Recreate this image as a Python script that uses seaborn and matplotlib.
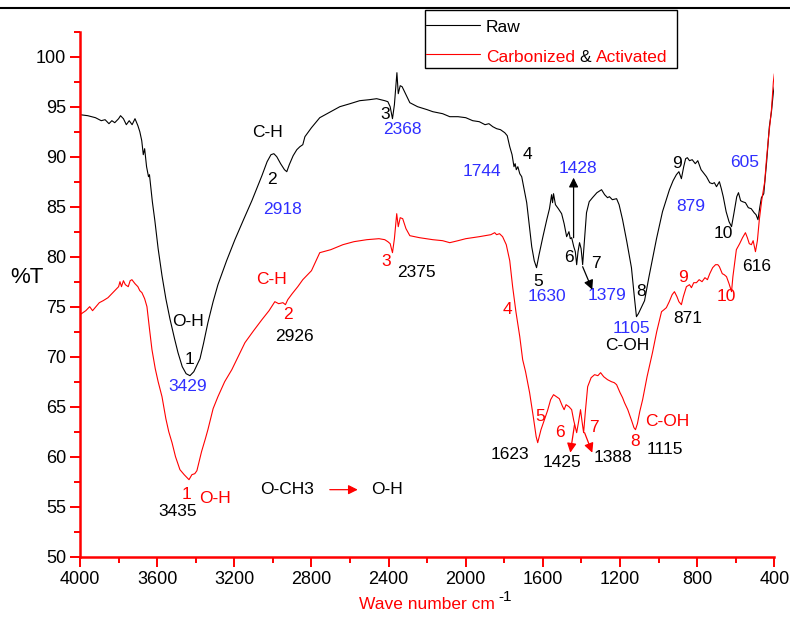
import matplotlib
matplotlib.use("Agg")
import matplotlib.pyplot as plt
from matplotlib.lines import Line2D
from matplotlib.patches import Rectangle
from matplotlib.text import Annotation
from matplotlib.ticker import MultipleLocator
import pandas as pd
import seaborn as sns

# ---- spectra (wavenumber cm-1, %T) ----
raw_wn = [4000, 3960, 3920, 3890, 3870, 3850, 3835, 3820, 3800, 3790, 3775, 3760, 3745,
          3730, 3715, 3700, 3690, 3680, 3672, 3665, 3655, 3645, 3640, 3625, 3612, 3595,
          3575, 3555, 3534, 3510, 3492, 3470, 3450, 3430, 3410, 3390, 3378, 3360, 3337,
          3310, 3285, 3240, 3197, 3150, 3109, 3080, 3057, 3030, 3010, 2995, 2980, 2960,
          2940, 2928, 2915, 2895, 2876, 2860, 2845, 2834, 2800, 2757, 2700, 2653, 2600,
          2550, 2500, 2462, 2420, 2404, 2392, 2380, 2370, 2357, 2350, 2340, 2330, 2310,
          2290, 2250, 2200, 2171, 2120, 2083, 2040, 2000, 1964, 1930, 1900, 1880, 1860,
          1840, 1820, 1798, 1785, 1772, 1760, 1750, 1744, 1738, 1730, 1720, 1710, 1700,
          1684, 1670, 1658, 1645, 1633, 1620, 1600, 1580, 1566, 1555, 1550, 1545, 1535,
          1520, 1503, 1490, 1477, 1465, 1458, 1451, 1440, 1432, 1425, 1418, 1410, 1402,
          1394, 1385, 1374, 1360, 1343, 1320, 1296, 1280, 1265, 1255, 1240, 1218, 1205,
          1187, 1165, 1141, 1125, 1115, 1105, 1090, 1073, 1050, 1011, 980, 944, 925, 908,
          895, 882, 870, 860, 851, 840, 826, 810, 797, 780, 752, 735, 722, 711, 700, 685,
          675, 665, 650, 635, 622, 610, 595, 586, 575, 565, 550, 535, 520, 505, 495, 485,
          475, 467, 455, 440, 426, 415, 405, 400]
raw_t = [94.2, 94.1, 93.9, 93.6, 93.7, 93.3, 93.6, 93.4, 93.8, 94.1, 93.8, 93.2, 93.6,
         93.2, 93.8, 93.1, 92.5, 91.6, 90.2, 90.8, 89.0, 88.0, 88.2, 85.5, 83.6, 80.8,
         78.1, 75.8, 73.8, 71.8, 70.4, 69.0, 68.3, 68.1, 68.5, 69.3, 69.8, 71.3, 73.4,
         75.5, 77.2, 79.6, 81.7, 83.8, 85.6, 87.0, 88.1, 89.5, 90.2, 90.3, 90.0, 89.3,
         88.7, 88.5, 89.2, 90.1, 90.7, 91.0, 91.2, 92.0, 92.9, 93.9, 94.5, 95.0, 95.3,
         95.6, 95.7, 95.8, 95.6, 95.5, 95.0, 93.8, 95.2, 98.4, 96.3, 97.1, 97.0, 96.2,
         95.4, 95.0, 94.7, 94.5, 94.3, 94.0, 94.0, 93.9, 93.6, 93.5, 93.2, 93.3, 93.0,
         92.8, 92.7, 92.4, 92.1, 91.0, 90.2, 89.0, 89.3, 88.7, 89.0, 88.3, 88.0, 87.0,
         85.4, 83.0, 81.0, 79.6, 78.9, 80.2, 82.0, 83.7, 84.8, 86.2, 85.4, 86.3, 85.2,
         84.8, 84.3, 83.3, 82.0, 82.5, 81.8, 81.9, 81.0, 80.5, 79.2, 80.5, 81.4, 80.8,
         79.2, 81.5, 84.4, 85.5, 85.9, 86.4, 86.7, 86.2, 85.9, 86.0, 85.7, 85.8, 85.2,
         83.7, 81.5, 78.9, 75.8, 74.0, 74.3, 74.9, 75.6, 78.0, 81.8, 84.5, 86.7, 87.6, 88.2,
         88.5, 87.8, 89.0, 89.8, 89.9, 89.6, 89.7, 89.3, 89.6, 88.7, 88.0, 87.4, 87.3, 87.4,
         87.0, 87.5, 86.8, 86.0, 84.5, 83.5, 83.0, 84.3, 86.0, 86.4, 85.6, 85.5, 85.4,
         84.9, 84.8, 84.4, 84.2, 83.7, 85.0, 85.9, 86.3, 89.5, 93.0, 94.5, 96.5, 97.0]

ca_wn = [4000, 3970, 3950, 3935, 3922, 3900, 3880, 3855, 3835, 3815, 3800, 3793, 3785,
         3775, 3765, 3750, 3740, 3731, 3715, 3700, 3690, 3679, 3665, 3653, 3640, 3627,
         3610, 3595, 3575, 3555, 3540, 3523, 3505, 3482, 3460, 3445, 3435, 3420, 3405,
         3394, 3370, 3350, 3337, 3310, 3285, 3250, 3213, 3180, 3145, 3100, 3057, 3020,
         2990, 2970, 2948, 2935, 2923, 2900, 2871, 2845, 2800, 2757, 2700, 2637, 2580,
         2513, 2450, 2420, 2404, 2392, 2380, 2370, 2358, 2350, 2340, 2327, 2310, 2290,
         2240, 2171, 2120, 2083, 2040, 2000, 1964, 1930, 1900, 1870, 1850, 1840, 1825,
         1809, 1790, 1772, 1757, 1740, 1720, 1705, 1690, 1669, 1650, 1635, 1627, 1610,
         1590, 1576, 1560, 1545, 1530, 1515, 1500, 1490, 1480, 1465, 1451, 1440, 1425,
         1415, 1405, 1397, 1389, 1380, 1368, 1350, 1332, 1315, 1301, 1285, 1265, 1245,
         1230, 1218, 1200, 1187, 1177, 1160, 1140, 1128, 1120, 1110, 1098, 1083, 1060,
         1032, 1010, 985, 972, 960, 945, 930, 918, 905, 895, 882, 872, 856, 840, 830, 818,
         804, 790, 775, 760, 747, 735, 720, 705, 693, 685, 670, 660, 648, 635, 622, 615,
         605, 597, 580, 565, 550, 540, 530, 519, 510, 498, 488, 478, 465, 450, 441, 430,
         415, 405, 400]
ca_t = [74.2, 74.6, 75.0, 74.6, 74.9, 75.4, 75.6, 75.9, 76.3, 76.7, 77.0, 77.5, 77.0,
        77.6, 77.2, 77.0, 77.6, 77.7, 77.3, 77.0, 76.6, 76.4, 75.8, 75.0, 72.8, 70.7,
        68.8, 67.5, 66.0, 63.8, 62.5, 61.4, 60.0, 58.7, 58.2, 57.9, 57.7, 58.2, 58.3,
        58.6, 60.5, 61.8, 62.7, 64.8, 66.0, 67.5, 68.7, 70.0, 71.4, 72.6, 73.7, 74.6,
        75.5, 75.3, 75.4, 75.2, 75.7, 76.3, 77.0, 77.7, 78.6, 80.4, 80.7, 81.2, 81.5,
        81.7, 81.8, 81.7, 81.5, 81.3, 80.4, 81.8, 84.3, 83.0, 83.9, 83.8, 82.8, 82.1,
        81.9, 81.7, 81.6, 81.4, 81.6, 81.8, 81.9, 82.0, 82.1, 82.2, 82.4, 82.2, 82.3,
        82.0, 81.2, 79.6, 77.0, 74.5, 72.0, 69.7, 68.5, 66.4, 64.0, 62.0, 61.4, 62.7,
        63.8, 64.6, 65.7, 66.2, 66.0, 65.8, 65.1, 64.7, 65.2, 65.0, 64.7, 63.6, 62.4,
        63.5, 64.7, 63.5, 62.4, 64.5, 67.0, 67.9, 68.2, 68.1, 68.4, 68.0, 67.7, 67.5,
        67.4, 67.2, 66.4, 65.9, 65.4, 64.7, 63.6, 62.9, 62.7, 63.3, 64.5, 65.7, 68.0,
        70.4, 72.5, 74.5, 74.7, 74.9, 75.5, 76.2, 76.5, 76.0, 75.5, 75.2, 76.0, 77.0,
        77.2, 76.9, 77.4, 77.4, 77.7, 77.5, 77.9, 77.7, 78.3, 78.9, 79.2, 79.2, 79.0,
        78.3, 78.2, 78.0, 77.3, 76.5, 78.0, 79.5, 80.7, 81.3, 81.9, 82.4, 81.9, 81.3,
        81.2, 81.6, 80.5, 81.6, 83.7, 85.7, 87.5, 89.7, 92.0, 94.7, 97.5, 98.3]

series_names = ["Raw", "Carbonized & Activated"]
series_colors = ["black", "red"]
BLUE = "#2f2fff"

# peak labels: (text, wavenumber, %T, colour)
peak_labels = [
    ("C-H", 3026, 92.4, "black"), ("2", 3005, 87.7, "black"), ("2918", 2948, 84.7, BLUE),
    ("O-H", 3440, 73.5, "black"), ("1", 3430, 69.7, "black"), ("3429", 3440, 67.0, BLUE),
    ("3", 2420, 94.2, "black"), ("2368", 2327, 92.7, BLUE),
    ("4", 1679, 90.2, "black"), ("1744", 1918, 88.5, BLUE), ("1428", 1420, 88.8, BLUE),
    ("5", 1627, 77.5, "black"), ("1630", 1581, 76.0, BLUE),
    ("6", 1467, 79.9, "black"), ("7", 1327, 79.3, "black"), ("1379", 1270, 76.1, BLUE),
    ("8", 1092, 76.5, "black"), ("1105", 1141, 72.8, BLUE), ("C-OH", 1161, 71.1, "black"),
    ("9", 907, 89.3, "black"), ("879", 835, 85.0, BLUE), ("10", 664, 82.3, "black"),
    ("605", 555, 89.4, BLUE), ("616", 493, 79.0, "black"),
    ("C-H", 3005, 77.7, "red"), ("2", 2923, 74.2, "red"), ("2926", 2886, 72.0, "black"),
    ("3", 2415, 79.5, "red"), ("2375", 2254, 78.4, "black"), ("4", 1783, 74.7, "red"),
    ("1", 3446, 56.2, "red"), ("O-H", 3301, 55.8, "red"), ("3435", 3492, 54.5, "black"),
    ("O-CH3", 2928, 56.7, "black"), ("O-H", 2410, 56.7, "black"),
    ("5", 1612, 64.0, "red"), ("1623", 1773, 60.2, "black"),
    ("6", 1513, 62.4, "red"), ("1425", 1503, 59.4, "black"),
    ("7", 1337, 62.9, "red"), ("1388", 1239, 59.9, "black"),
    ("8", 1120, 61.5, "red"), ("C-OH", 954, 63.5, "red"), ("1115", 970, 60.7, "black"),
    ("9", 876, 77.9, "red"), ("871", 851, 73.8, "black"), ("10", 648, 76.0, "red"),
]

# arrows: (tail wn, tail %T, head wn, head %T, colour)
arrows = [
    (1441, 81.9, 1441, 87.9, "black"),
    (1394, 79.0, 1344, 76.7, "black"),
    (1436, 63.2, 1458, 60.4, "red"),
    (1384, 62.4, 1344, 60.4, "red"),
    (2705, 56.7, 2560, 56.7, "red"),
]

df = pd.concat([
    pd.DataFrame({"wn": raw_wn, "T": raw_t, "sample": series_names[0]}),
    pd.DataFrame({"wn": ca_wn, "T": ca_t, "sample": series_names[1]}),
])

sns.set_theme(style="white")
plt.rcParams["font.family"] = ["Liberation Sans", "DejaVu Sans"]

W, H = 790, 619
fig = plt.figure(figsize=(W / 100, H / 100), dpi=100)
ax = fig.add_axes([0.1013, 0.1007, 0.8789, 0.8481])

sns.lineplot(data=df, x="wn", y="T", hue="sample", palette=series_colors,
             estimator=None, sort=False, linewidth=0.8, legend=False, ax=ax)

ax.set_xlim(4000, 400)
ax.set_ylim(50, 102.5)
ax.xaxis.set_major_locator(MultipleLocator(400))
ax.xaxis.set_minor_locator(MultipleLocator(200))
ax.yaxis.set_major_locator(MultipleLocator(5))
ax.yaxis.set_minor_locator(MultipleLocator(2.5))
for side in ["top", "right"]:
    ax.spines[side].set_visible(False)
for side in ["left", "bottom"]:
    ax.spines[side].set_color("red")
    ax.spines[side].set_linewidth(1.8)
ax.tick_params(which="major", direction="out", length=7, width=1.4, color="red",
               labelsize=13, labelcolor="black", pad=3, bottom=True, left=True)
ax.tick_params(which="minor", direction="out", length=4, width=1.4, color="red",
               bottom=True, left=True)

ax.set_ylabel("%T", rotation=0, fontsize=16, color="black", ha="center", va="center")
ax.yaxis.set_label_coords(-0.077, 0.531)
xl = ax.set_xlabel("Wave number cm", fontsize=12.5, color="red", labelpad=7)
ax.annotate("-1", xy=(1, 1), xycoords=xl, xytext=(2, 0), textcoords="offset points",
            fontsize=11, color="black", ha="left", va="center")

for text, x, y, c in peak_labels:
    ax.text(x, y, text, color=c, fontsize=12.5, ha="center", va="center")

for x0, y0, x1, y1, c in arrows:
    ax.annotate("", xy=(x1, y1), xytext=(x0, y0),
                arrowprops=dict(arrowstyle="-|>", color=c, lw=0.9, mutation_scale=14,
                                shrinkA=0, shrinkB=0))


# ---- legend box, drawn on the figure (pixel positions from the top-left) ----
def fx(px):
    return px / W


def fy(py):
    return 1 - py / H


fig.add_artist(Rectangle((fx(425), fy(68)), fx(677) - fx(425), fy(10) - fy(68),
                         transform=fig.transFigure, facecolor="white",
                         edgecolor="black", lw=1.0))
for c, py in zip(series_colors, [25, 54]):
    fig.add_artist(Line2D([fx(426), fx(480)], [fy(py), fy(py)],
                          transform=fig.transFigure, color=c, lw=0.8))
fig.text(fx(486), fy(27), series_names[0], fontsize=12.5, color="black",
         ha="left", va="center")
t1 = fig.text(fx(486), fy(57), "Carbonized", fontsize=12.5, color="red",
              ha="left", va="center")
t2 = fig.add_artist(Annotation("&", xy=(1, 0), xycoords=t1, xytext=(3.5, 0),
                               textcoords="offset points", fontsize=12.5,
                               color="black", ha="left", va="bottom"))
fig.add_artist(Annotation("Activated", xy=(1, 0), xycoords=t2, xytext=(3.5, 0),
                          textcoords="offset points", fontsize=12.5,
                          color="red", ha="left", va="bottom"))

fig.add_artist(Line2D([0, 1], [fy(8), fy(8)], transform=fig.transFigure,
                      color="black", lw=1.5))

fig.savefig("out.png", dpi=100)
